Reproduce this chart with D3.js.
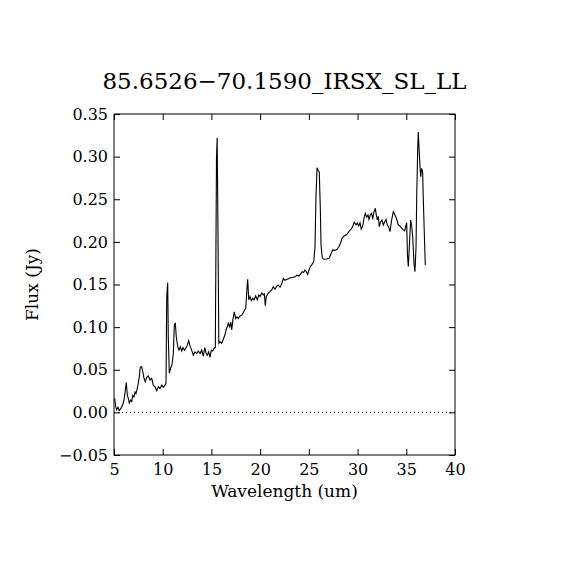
<!DOCTYPE html>
<html>
<head>
<meta charset="utf-8">
<script src="https://cdn.jsdelivr.net/npm/d3@7"></script>
<style>
  body { margin: 0; background: #fff; }
  text { font-family: "DejaVu Serif", serif; fill: #000; }
</style>
</head>
<body>
<div id="chart"></div>
<script>
var title = "85.6526\u221270.1590_IRSX_SL_LL";

var wavelength = [
  5.07, 5.17, 5.28, 5.41, 5.54, 5.72, 5.89, 6.03, 6.16, 6.26, 6.37, 6.47, 6.57, 6.71, 6.82, 6.92,
  7.05, 7.16, 7.26, 7.39, 7.49, 7.60, 7.70, 7.84, 7.95, 8.08, 8.21, 8.36, 8.52, 8.70, 8.87, 9.03,
  9.21, 9.38, 9.55, 9.72, 9.90, 10.06, 10.23, 10.34, 10.41, 10.51, 10.57, 10.68, 10.82, 10.95,
  11.09, 11.19, 11.29, 11.39, 11.54, 11.67, 11.81, 11.95, 12.08, 12.22, 12.36, 12.49, 12.67,
  12.80, 12.97, 13.14, 13.31, 13.49, 13.65, 13.83, 14.00, 14.17, 14.31, 14.44, 14.58, 14.72,
  14.85, 14.99, 15.13, 15.26, 15.40, 15.52, 15.59, 15.65, 15.76, 15.88, 16.05, 16.22, 16.39,
  16.50, 16.63, 16.73, 16.87, 16.98, 17.08, 17.21, 17.35, 17.49, 17.62, 17.76, 17.93, 18.11,
  18.27, 18.41, 18.52, 18.65, 18.72, 18.83, 18.96, 19.09, 19.24, 19.37, 19.54, 19.71, 19.85,
  19.99, 20.16, 20.32, 20.43, 20.53, 20.63, 20.84, 21.01, 21.19, 21.35, 21.52, 21.70, 21.86,
  22.04, 22.21, 22.38, 22.55, 22.83, 23.10, 23.37, 23.58, 23.78, 23.99, 24.19, 24.33, 24.47,
  24.60, 24.74, 24.88, 25.01, 25.15, 25.29, 25.50, 25.63, 25.73, 25.84, 25.94, 26.07, 26.18,
  26.25, 26.38, 26.55, 26.83, 27.10, 27.27, 27.45, 27.65, 27.86, 28.06, 28.23, 28.40, 28.61,
  28.81, 28.99, 29.15, 29.33, 29.50, 29.66, 29.84, 29.97, 30.12, 30.25, 30.38, 30.53, 30.66,
  30.79, 30.94, 31.07, 31.17, 31.31, 31.45, 31.55, 31.69, 31.82, 31.92, 32.03, 32.13, 32.23,
  32.37, 32.51, 32.64, 32.79, 32.92, 33.05, 33.19, 33.33, 33.50, 33.67, 33.84, 34.02, 34.18,
  34.35, 34.53, 34.69, 34.84, 34.94, 35.04, 35.12, 35.21, 35.31, 35.45, 35.56, 35.66, 35.79,
  35.89, 36.00, 36.07, 36.17, 36.23, 36.30, 36.41, 36.48, 36.58, 36.68, 36.74, 36.84, 36.95
];

var flux = [
  0.0165, 0.0067, 0.003, 0.006, 0.002, 0.005, 0.0087, 0.0145, 0.026, 0.035, 0.020, 0.0165, 0.011, 0.0145, 0.0126, 0.020,
  0.018, 0.024, 0.022, 0.028, 0.034, 0.042, 0.053, 0.0536, 0.048, 0.040, 0.036, 0.041, 0.0427, 0.038, 0.040, 0.032,
  0.030, 0.0255, 0.030, 0.028, 0.032, 0.0294, 0.032, 0.034, 0.134, 0.152, 0.089, 0.046, 0.052, 0.0556,
  0.069, 0.1025, 0.105, 0.089, 0.077, 0.073, 0.077, 0.072, 0.076, 0.073, 0.075, 0.078, 0.084,
  0.078, 0.073, 0.067, 0.071, 0.069, 0.072, 0.069, 0.073, 0.066, 0.076, 0.070, 0.067, 0.071,
  0.0646, 0.073, 0.072, 0.075, 0.076, 0.298, 0.322, 0.243, 0.081, 0.083, 0.081, 0.0858, 0.091,
  0.0967, 0.1005, 0.1045, 0.1005, 0.106, 0.0967, 0.109, 0.118, 0.110, 0.112, 0.110, 0.113, 0.114,
  0.117, 0.120, 0.122, 0.1456, 0.156, 0.132, 0.136, 0.131, 0.134, 0.132, 0.1365, 0.132, 0.1377,
  0.136, 0.140, 0.1377, 0.139, 0.125, 0.136, 0.140, 0.1416, 0.1436, 0.1475, 0.1444, 0.148, 0.1495,
  0.1467, 0.1506, 0.157, 0.155, 0.1565, 0.158, 0.1585, 0.159, 0.161, 0.160, 0.163, 0.165, 0.164,
  0.167, 0.165, 0.162, 0.167, 0.171, 0.173, 0.1768, 0.194, 0.253, 0.287, 0.284, 0.282, 0.237,
  0.196, 0.181, 0.1796, 0.180, 0.181, 0.186, 0.1905, 0.190, 0.191, 0.1937, 0.198, 0.204, 0.207,
  0.208, 0.210, 0.213, 0.2148, 0.218, 0.223, 0.220, 0.222, 0.2187, 0.2225, 0.2148, 0.2187, 0.2277,
  0.2336, 0.229, 0.2316, 0.2265, 0.2316, 0.2336, 0.2265, 0.2354, 0.2394, 0.2316, 0.2257, 0.230, 0.2178,
  0.2237, 0.2257, 0.2198, 0.2237, 0.2265, 0.2198, 0.2178, 0.212, 0.2257, 0.2354, 0.2316, 0.2265, 0.2198,
  0.2187, 0.216, 0.214, 0.213, 0.218, 0.2225, 0.185, 0.171, 0.194, 0.2257, 0.218, 0.206, 0.175,
  0.165, 0.194, 0.253, 0.308, 0.329, 0.312, 0.288, 0.2765, 0.2863, 0.282, 0.253, 0.214, 0.173
];

var xTicks = [5, 10, 15, 20, 25, 30, 35, 40];
var yTicks = [-0.05, 0.00, 0.05, 0.10, 0.15, 0.20, 0.25, 0.30, 0.35];

var width = 570;
var height = 570;
var margin = {top: 114, right: 115, bottom: 115, left: 114};
var plotW = width - margin.left - margin.right;
var plotH = height - margin.top - margin.bottom;
var tickLen = 6;

var svg = d3.select("#chart").append("svg")
    .attr("width", width)
    .attr("height", height);

var x = d3.scaleLinear().domain([5, 40]).range([0, plotW]);
var y = d3.scaleLinear().domain([-0.05, 0.35]).range([plotH, 0]);

var g = svg.append("g")
    .attr("transform", "translate(" + margin.left + "," + margin.top + ")");

// title
svg.append("text")
    .attr("x", margin.left + plotW / 2)
    .attr("y", 89)
    .style("text-anchor", "middle")
    .attr("font-size", "23")
    .text(title);

// zero level
g.append("line")
    .attr("x1", 0)
    .attr("x2", plotW)
    .attr("y1", y(0))
    .attr("y2", y(0))
    .attr("stroke", "#000")
    .attr("stroke-width", 1)
    .attr("stroke-dasharray", "1,3");

// spectrum
var pts = wavelength.map(function(w, i) { return [w, flux[i]]; });
var line = d3.line()
    .x(function(d) { return x(d[0]); })
    .y(function(d) { return y(d[1]); });

g.append("path")
    .datum(pts)
    .attr("fill", "none")
    .attr("stroke", "#000")
    .attr("stroke-width", 1.1)
    .attr("d", line);

// axes, ticks inward on all sides
function styleAxis(sel) {
    sel.select(".domain").remove();
    sel.selectAll(".tick line").attr("stroke", "#000").attr("stroke-width", 1);
    sel.selectAll(".tick text").attr("font-size", "16").attr("font-family", "DejaVu Serif");
}

g.append("g")
    .attr("transform", "translate(0," + plotH + ")")
    .call(d3.axisBottom(x).tickValues(xTicks).tickSizeInner(-tickLen).tickPadding(9)
        .tickFormat(d3.format("d")))
    .call(styleAxis);

g.append("g")
    .call(d3.axisTop(x).tickValues(xTicks).tickSizeInner(-tickLen).tickFormat(""))
    .call(styleAxis);

g.append("g")
    .call(d3.axisLeft(y).tickValues(yTicks).tickSizeInner(-tickLen).tickPadding(6)
        .tickFormat(function(d) { return d3.format(".2f")(d).replace("-", "\u2212"); }))
    .call(styleAxis);

g.append("g")
    .attr("transform", "translate(" + plotW + ",0)")
    .call(d3.axisRight(y).tickValues(yTicks).tickSizeInner(-tickLen).tickFormat(""))
    .call(styleAxis);

// frame
g.append("rect")
    .attr("x", 0)
    .attr("y", 0)
    .attr("width", plotW)
    .attr("height", plotH)
    .attr("fill", "none")
    .attr("stroke", "#000")
    .attr("stroke-width", 1);

// axis labels
svg.append("text")
    .attr("x", margin.left + plotW / 2)
    .attr("y", 497)
    .style("text-anchor", "middle")
    .attr("font-size", "17")
    .text("Wavelength (um)");

svg.append("text")
    .attr("transform", "translate(38," + (margin.top + plotH / 2) + ") rotate(-90)")
    .style("text-anchor", "middle")
    .attr("font-size", "17")
    .text("Flux (Jy)");
</script>
</body>
</html>
